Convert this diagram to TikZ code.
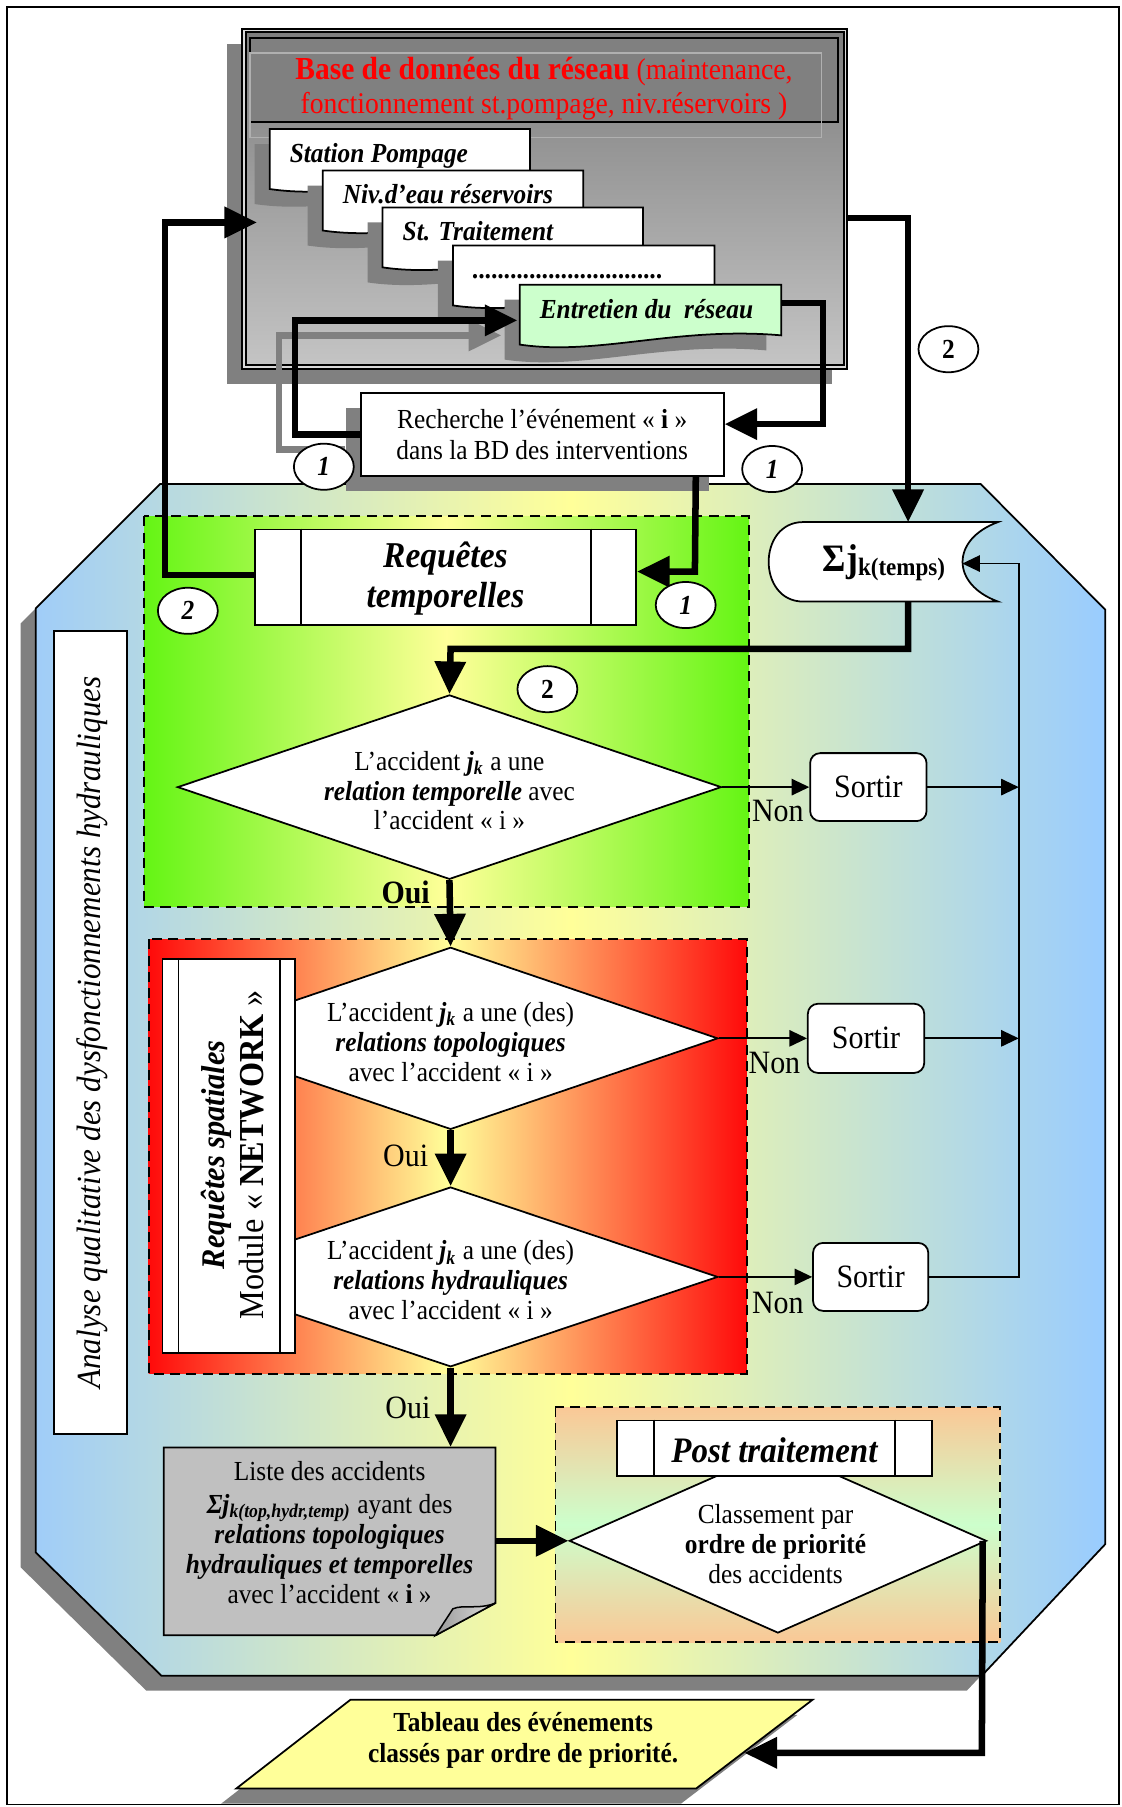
\documentclass[tikz,border=0pt]{standalone}
\usepackage{fontspec}
\setmainfont{Liberation Serif}[FakeStretch=0.92]
\usetikzlibrary{shapes.geometric,arrows.meta,shadows,calc}
\definecolor{shd}{RGB}{128,128,128}
\definecolor{blueL}{RGB}{160,205,248}
\definecolor{blueR}{RGB}{153,204,255}
\definecolor{paleY}{RGB}{255,255,153}
\definecolor{grn}{RGB}{100,245,20}
\definecolor{redc}{RGB}{255,10,10}
\definecolor{peach}{RGB}{250,200,150}
\definecolor{mint}{RGB}{204,255,204}
\definecolor{dbdark}{RGB}{125,125,125}
\definecolor{dblight}{RGB}{196,196,196}
\definecolor{listegray}{RGB}{192,192,192}
\newcommand{\docpage}[6]{%
  \path[sh,draw,line width=0.7pt,fill=#4] (#1,#2) -- (#3,#2) -- (#3,{#2+44})
    .. controls ({#1+0.6*(#3-#1)},{#2+36}) and ({#1+0.3*(#3-#1)},{#2+62}) .. (#1,{#2+52}) -- cycle;
  \node[pagetxt,anchor=base west] (#6) at ({#1+17},{#2+29}) {#5};
}
\begin{document}
\begin{tikzpicture}[x=0.46pt,y=-0.46pt,
  sz/.style 2 args={minimum width=#1*0.46pt,minimum height=#2*0.46pt,inner sep=0pt},
  sh/.style={drop shadow={shadow xshift=-6pt,shadow yshift=-6pt,opacity=1,fill=shd}},
  wbox/.style={draw,line width=0.7pt,fill=white},
  grp/.style={draw,dash pattern=on 4pt off 2.5pt,line width=0.7pt},
  big/.style={line width=2.6pt,-{Triangle[length=13pt,width=12pt]}},
  bigline/.style={line width=2.6pt},
  thinarr/.style={line width=0.7pt,-{Triangle[length=7pt,width=6.5pt]}},
  num/.style={draw,ellipse,fill=white,line width=0.7pt,sz={52}{40},font=\fontsize{11}{12}\selectfont\bfseries\itshape},
  pagetxt/.style={inner sep=0pt,font=\fontsize{11}{12}\selectfont\bfseries\itshape},
  dtxt/.style={align=center,font=\fontsize{11}{11.9}\selectfont},
  lbl/.style={inner sep=0pt,font=\fontsize{13}{14}\selectfont},
  sortir/.style={draw,line width=0.7pt,fill=white,rounded corners=4pt,font=\fontsize{13}{14}\selectfont},
  dia/.style={diamond,draw,line width=0.7pt,fill=white,inner sep=0pt}
]
\useasboundingbox (0,0) rectangle (973,1568);
\draw[line width=0.6pt] (6,6) rectangle (971,1566);

% main octagon
\path[sh,draw,line width=0.7pt,left color=blueL,right color=blueR,middle color=paleY]
  (139,420) -- (851,420) -- (959,529) -- (959,1340) -- (852,1454) -- (140,1454) -- (31,1347) -- (31,528) -- cycle;

% group areas
\path[grp,left color=grn,right color=grn,middle color=paleY] (125,448) rectangle (650,787);
\path[grp,left color=redc,right color=redc,middle color=paleY] (129,815) rectangle (648,1192);
\path[grp,top color=peach,bottom color=peach,middle color=mint] (482,1221) rectangle (868,1425);

% database box
\node[sh,draw,line width=0.8pt,fill=gray!30,sz={525}{295}] (db) at (472.5,172.5) {};
\path[draw,line width=0.8pt,top color=dbdark,bottom color=dblight]
  ([xshift=1.8pt,yshift=-1.8pt]db.north west) rectangle ([xshift=-1.8pt,yshift=1.8pt]db.south east);
\node[draw,line width=0.8pt,fill=shd,sz={510}{73}] (hdr) at (472,69.5) {};
\draw[gray!62,line width=0.5pt] (217,46) rectangle (713,119);
\node[red,align=center,font=\fontsize{12}{13.4}\selectfont] (hdrt) at (472,77)
  {{\fontsize{12.8}{13.4}\selectfont\bfseries Base de données du réseau} (maintenance,\\fonctionnement st.pompage, niv.réservoirs )};

\docpage{234}{112}{460}{white}{Station Pompage}{pg1}
\docpage{280}{148}{506}{white}{Niv.d’eau réservoirs}{pg2}
\docpage{332}{180}{558}{white}{St. Traitement}{pg3}
\docpage{393}{213}{620}{white}{..............................}{pg4}
\docpage{451}{247}{678}{mint}{Entretien du\ \ réseau}{pg5}
\coordinate (p5w) at (449,278);
\coordinate (p5e) at (678,263);

% shadow of the arrow towards the database
\coordinate (gs1) at (299,390);
\coordinate (gs2) at (435,291);
\draw[line width=2.6pt,shd,-{Triangle[length=13pt,width=12pt]}] (gs1) -- (242,390) -- (242,291) -- (gs2);

% search box
\node[sh,wbox,sz={315}{72},align=center,font=\fontsize{11}{12.4}\selectfont] (rech) at (470.5,377)
  {Recherche l’événement «~{\bfseries i}~»\\dans la BD des interventions};

% temporal requests
\node[wbox,sz={331}{83}] (reqt) at (386.5,501) {};
\draw[line width=0.7pt] ([xshift=18.9pt]reqt.north west) -- ([xshift=18.9pt]reqt.south west);
\draw[line width=0.7pt] ([xshift=-18.4pt]reqt.north east) -- ([xshift=-18.4pt]reqt.south east);
\node[align=center,font=\fontsize{14.5}{16}\selectfont\bfseries\itshape] (reqtt) at (386.5,502) {Requêtes\\temporelles};

% sigma store
\path[draw,line width=0.7pt,fill=white] (697,453) -- (866,453) .. controls (825,468) and (825,507) .. (866,522)
  -- (697,522) .. controls (657,522) and (657,453) .. (697,453) -- cycle;
\node (sig) at (767,488) {\fontsize{15.5}{16}\selectfont\bfseries Σj\raisebox{-1.5pt}{\fontsize{10}{12}\selectfont k(temps)}};
\coordinate (sigN) at (788,453);
\coordinate (sigS) at (788,522);
\coordinate (sigE) at (835,489);

% analysis label
\node[wbox,sz={63}{697}] (ana) at (78.5,896) {};
\node[rotate=90,font=\fontsize{13.5}{15}\selectfont\itshape] (anat) at (80,896) {Analyse qualitative des dysfonctionnements hydrauliques};

% decisions
\node[dia,sz={472}{160}] (d1) at (390,683) {};
\node[dtxt] (d1t) at (390,686) {L’accident {\bfseries\itshape j\textsubscript{k}} a une\\{\bfseries\itshape relation temporelle} avec\\l’accident «~i~»};
\node[dia,sz={464}{158}] (d2) at (391,901) {};
\node[dtxt] (d2t) at (391,904) {L’accident {\bfseries\itshape j\textsubscript{k}} a une (des)\\{\bfseries\itshape relations topologiques}\\avec l’accident «~i~»};
\node[dia,sz={464}{156}] (d3) at (391,1108) {};
\node[dtxt] (d3t) at (391,1111) {L’accident {\bfseries\itshape j\textsubscript{k}} a une (des)\\{\bfseries\itshape relations hydrauliques}\\avec l’accident «~i~»};

% spatial requests box
\node[wbox,sz={115}{342}] (vbox) at (198.5,1003) {};
\draw[line width=0.7pt] ([xshift=6.7pt]vbox.north west) -- ([xshift=6.7pt]vbox.south west);
\draw[line width=0.7pt] ([xshift=-6.4pt]vbox.north east) -- ([xshift=-6.4pt]vbox.south east);
\node[rotate=90,align=center,font=\fontsize{14}{15.5}\selectfont] (vboxt) at (202,1002)
  {{\fontsize{13.2}{15.5}\selectfont\bfseries\itshape Requêtes spatiales}\\Module «~{\bfseries NETWORK}~»};

% exits
\node[sortir,sz={101}{59}] (s1) at (753.5,683) {Sortir};
\node[sortir,sz={101}{60}] (s2) at (751.5,901) {Sortir};
\node[sortir,sz={100}{59}] (s3) at (755.5,1108) {Sortir};
\coordinate (vx) at (884,0);
\node[lbl] (n1) at (675,704) {Non};
\node[lbl] (n2) at (672,922) {Non};
\node[lbl] (n3) at (675,1131) {Non};
\node[lbl,font=\fontsize{13}{14}\selectfont\bfseries] (o1) at (352,774) {Oui};
\node[lbl] (o2) at (352,1003) {Oui};
\node[lbl] (o3) at (354,1222) {Oui};

% list document
\path[draw,line width=0.7pt,fill=listegray] (142,1256) -- (430,1256) -- (430,1391) -- (378,1419) -- (142,1419) -- cycle;
\path[draw,line width=0.6pt,left color=gray!80,right color=gray!25] (430,1391) .. controls (415,1397) and (402,1392) .. (393,1396) -- (378,1419) -- cycle;
\node[sz={288}{163}] (liste) at (286,1337.5) {};
\node[align=center,font=\fontsize{11}{12}\selectfont] (listet) at (286,1330)
  {Liste des accidents\\[1pt]{\bfseries\itshape Σj\textsubscript{k(top,hydr,temp)}} ayant des\\{\bfseries\itshape relations topologiques}\\{\bfseries\itshape hydrauliques et temporelles}\\avec l’accident «~{\bfseries i}~»};

% post-processing
\node[dia,sz={362}{160}] (d4) at (675,1337) {};
\node[dtxt] (d4t) at (673,1340) {Classement par\\{\bfseries ordre de priorité}\\des accidents};
\node[wbox,sz={273}{48}] (post) at (672,1256.5) {};
\draw[line width=0.7pt] ([xshift=15pt]post.north west) -- ([xshift=15pt]post.south west);
\draw[line width=0.7pt] ([xshift=-15pt]post.north east) -- ([xshift=-15pt]post.south east);
\node[font=\fontsize{14.3}{16}\selectfont\bfseries\itshape] (postt) at (672,1258) {Post traitement};

% output table
\path[sh,draw,line width=0.7pt,fill=paleY] (304,1475) -- (705,1475) -- (604,1552) -- (205,1552) -- cycle;
\node[align=center,font=\fontsize{11}{12.2}\selectfont\bfseries] (tab) at (454,1510) {Tableau des événements\\classés par ordre de priorité.};
\coordinate (tabE) at (646,1521);

% connectors
\coordinate (dbL) at (223,193);
\coordinate (dbR) at (735,189);
\draw[big] (rech.west) -- (256,377) -- (256,278) -- (p5w);
\draw[big] (p5e) -- (714,263) -- (714,368) -- ($(rech.east)+(0,-9)$);
\draw[big] ($(rech.south east)+(-25,0)$) -- (603,496) -- ($(reqt.east)+(0,-5)$);
\draw[big] ($(reqt.west)+(0,-2)$) -- (143,499) -- (143,193) -- (dbL);
\draw[big] (dbR) -- (788,189) -- (sigN);
\draw[big] (sigS) -- (788,563) -- (391,563) -- (d1.north);
\draw[big] (d1.south) -- (d2.north);
\draw[big] (d2.south) -- (d3.north);
\draw[big] (d3.south) -- (liste.north -| d3.south);
\draw[big] (liste.east |- d4.west) -- (d4.west);
\draw[big] ($(d4.east)+(-4,0)$) -- (852,1521) -- (tabE);
\draw[thinarr] (d1.east) -- (s1.west);
\draw[thinarr] (d2.east) -- (s2.west);
\draw[thinarr] (d3.east) -- (s3.west);
\draw[thinarr] (s1.east) -- (s1.east -| vx);
\draw[thinarr] (s2.east) -- (s2.east -| vx);
\draw[thinarr] (s3.east) -- (s3.east -| vx) -- (884,489) -- (sigE);

% numbered ellipses
\node[num] (c1a) at (281,405) {1};
\node[num] (c1b) at (670,407) {1};
\node[num] (c1c) at (595,525) {1};
\node[num,font=\fontsize{11}{12}\selectfont\bfseries] (c2a) at (823,303) {2};
\node[num] (c2b) at (163,530) {2};
\node[num,font=\fontsize{11}{12}\selectfont\bfseries] (c2c) at (475,598) {2};
\end{tikzpicture}
\end{document}
